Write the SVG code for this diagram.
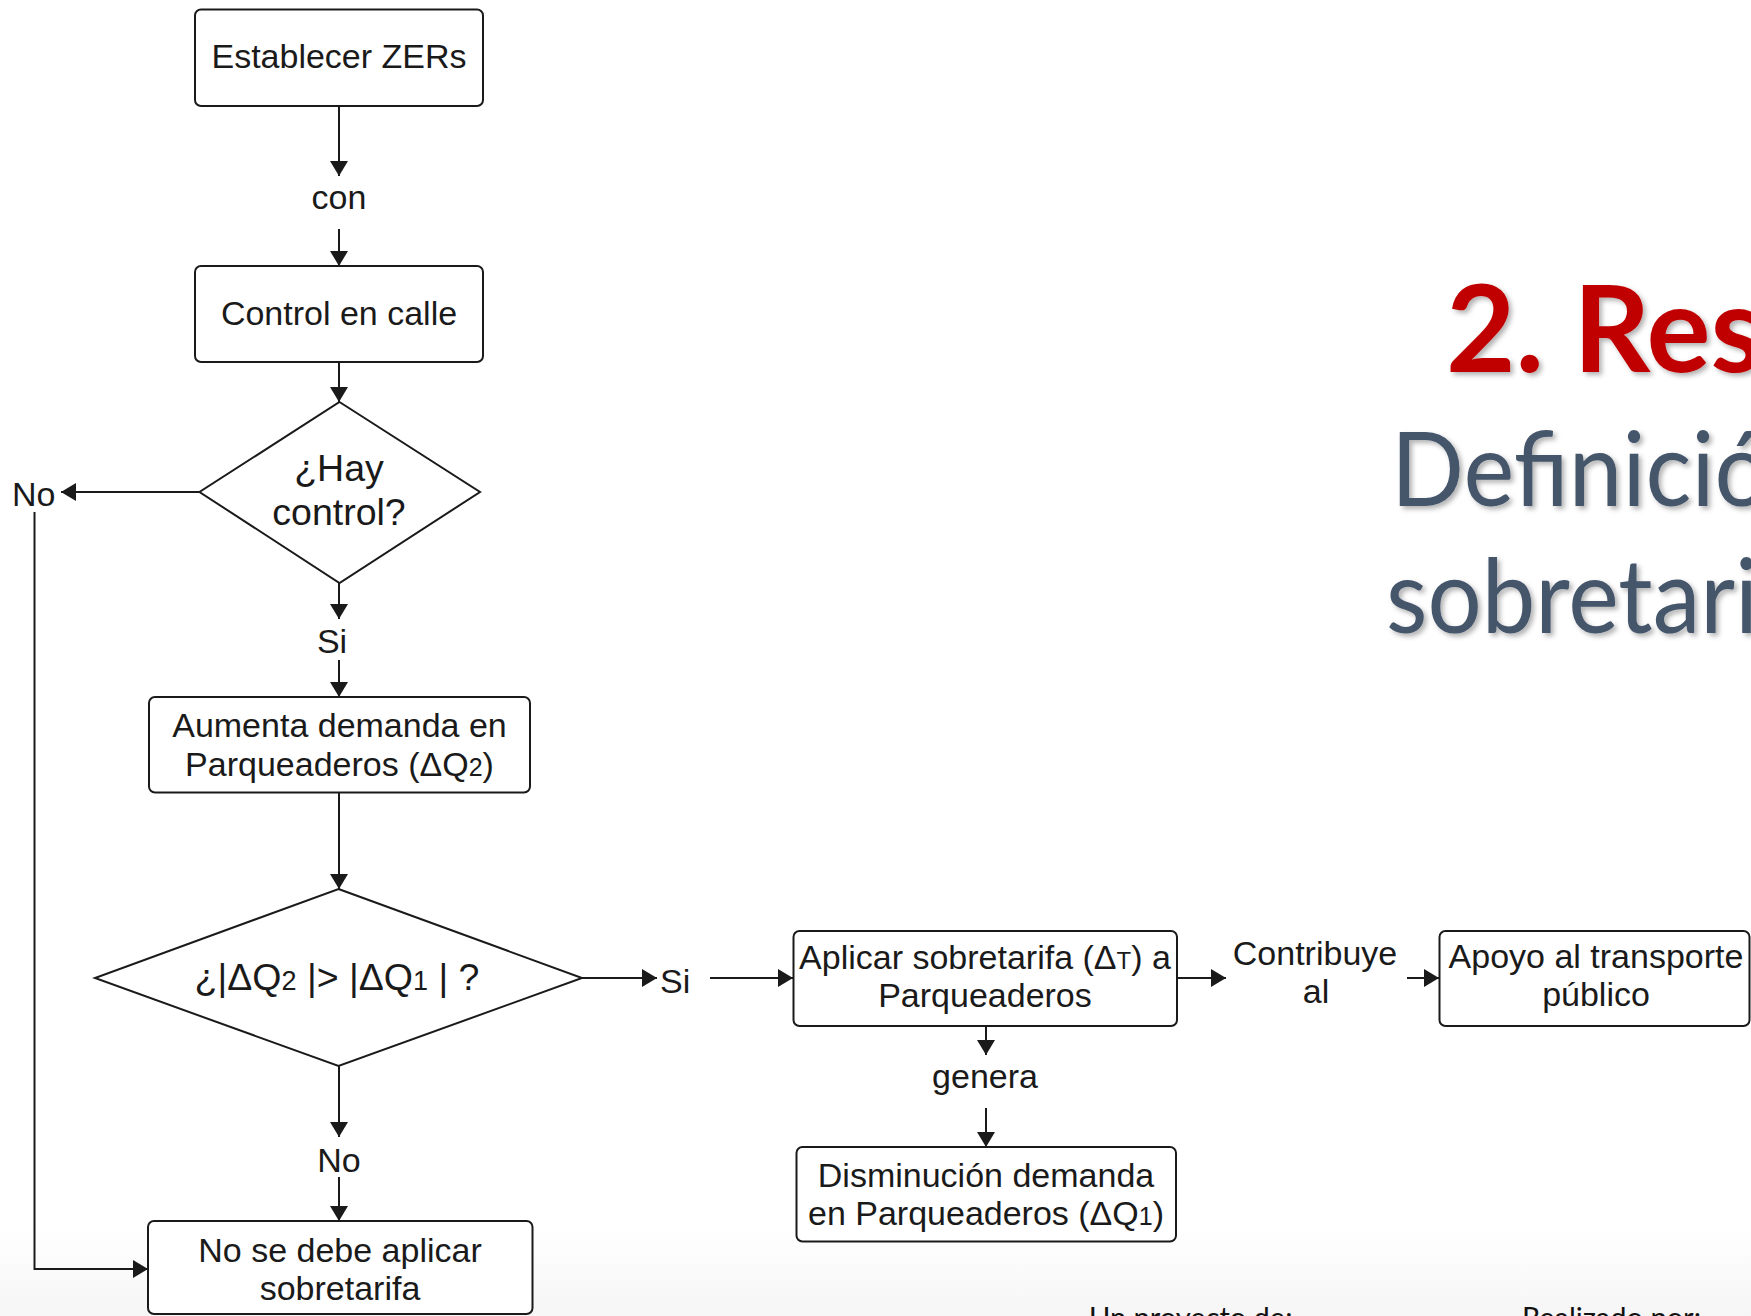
<svg xmlns="http://www.w3.org/2000/svg" width="1751" height="1316" viewBox="0 0 1751 1316">
<defs>
<style>
.box{fill:#fff;stroke:#1a1a1a;stroke-width:2}
.dia{fill:#fff;stroke:#1a1a1a;stroke-width:2}
.con{fill:none;stroke:#1a1a1a;stroke-width:2}
.t{font-family:"Liberation Sans",Arial,sans-serif;font-size:34px;fill:#1a1a1a;text-anchor:middle}
.d{font-size:37.5px}
.ts{font-size:25px}
.tds{font-size:27px}
.sm{font-size:24px}
.title{font-family:Lato,"Open Sans",sans-serif;font-weight:bold;font-size:120px;fill:#C00000}
.sub{font-family:Lato,"Open Sans",sans-serif;font-size:102px;fill:#44546A}
.foot{font-family:Lato,"Open Sans",sans-serif;font-size:29px;fill:#111}
</style>
<marker id="ah" markerUnits="userSpaceOnUse" markerWidth="16" markerHeight="18" refX="15" refY="9" orient="auto">
<path d="M0,0 L15,9 L0,18 Z" fill="#1a1a1a"/>
</marker>
<linearGradient id="bg" x1="0" y1="0" x2="0" y2="1">
<stop offset="0" stop-color="#ffffff"/>
<stop offset="1" stop-color="#f6f6f6"/>
</linearGradient>
<filter id="sh" x="-5%" y="-5%" width="110%" height="120%">
<feDropShadow dx="3" dy="3" stdDeviation="2.5" flood-color="#000" flood-opacity="0.3"/>
</filter>
</defs>
<rect x="0" y="0" width="1751" height="1316" fill="#fff"/>
<rect x="0" y="1222" width="1751" height="94" fill="url(#bg)"/>

<g id="heading" filter="url(#sh)">
<text class="title" x="1446" y="372">2. Res</text>
<text class="sub" x="1391" y="506" textLength="378" lengthAdjust="spacingAndGlyphs">Definició</text>
<text class="sub" x="1386" y="633" textLength="372" lengthAdjust="spacingAndGlyphs">sobretari</text>
</g>

<g id="footer">
<text class="foot" x="1089" y="1328">Un proyecto de:</text>
<text class="foot" x="1522" y="1328">Realizado por:</text>
</g>

<g id="connectors">
<line class="con" x1="339" y1="106" x2="339" y2="176" marker-end="url(#ah)"/>
<line class="con" x1="339" y1="229" x2="339" y2="266" marker-end="url(#ah)"/>
<line class="con" x1="339" y1="362" x2="339" y2="402" marker-end="url(#ah)"/>
<line class="con" x1="200" y1="492" x2="61" y2="492" marker-end="url(#ah)"/>
<polyline class="con" points="34.5,512 34.5,1269 148,1269" marker-end="url(#ah)"/>
<line class="con" x1="339" y1="583" x2="339" y2="619" marker-end="url(#ah)"/>
<line class="con" x1="339" y1="660" x2="339" y2="697" marker-end="url(#ah)"/>
<line class="con" x1="339" y1="792" x2="339" y2="889" marker-end="url(#ah)"/>
<line class="con" x1="339" y1="1066" x2="339" y2="1137" marker-end="url(#ah)"/>
<line class="con" x1="339" y1="1177" x2="339" y2="1221" marker-end="url(#ah)"/>
<line class="con" x1="582" y1="978" x2="657" y2="978" marker-end="url(#ah)"/>
<line class="con" x1="710" y1="978" x2="793" y2="978" marker-end="url(#ah)"/>
<line class="con" x1="1177" y1="978" x2="1226" y2="978" marker-end="url(#ah)"/>
<line class="con" x1="1407" y1="978" x2="1439" y2="978" marker-end="url(#ah)"/>
<line class="con" x1="986" y1="1026" x2="986" y2="1055" marker-end="url(#ah)"/>
<line class="con" x1="986" y1="1108" x2="986" y2="1147" marker-end="url(#ah)"/>
<text class="t" x="339" y="209">con</text>
<text class="t" x="12" y="506" style="text-anchor:start">No</text>
<text class="t" x="332" y="653">Si</text>
<text class="t" x="339" y="1172">No</text>
<text class="t" x="660" y="993" style="text-anchor:start">Si</text>
<text class="t" x="1315" y="965">Contribuye</text>
<text class="t" x="1316" y="1003">al</text>
<text class="t" x="985" y="1088">genera</text>
</g>

<g id="n1">
<rect class="box" x="195" y="9.5" width="288" height="96.5" rx="6"/>
<text class="t" x="339" y="68">Establecer ZERs</text>
</g>
<g id="n2">
<rect class="box" x="195" y="266" width="288" height="96" rx="6"/>
<text class="t" x="339" y="325">Control en calle</text>
</g>
<g id="n3">
<polygon class="dia" points="339.5,402 480,492 339.5,583 199.5,492"/>
<text class="t d" x="339" y="481">¿Hay</text>
<text class="t d" x="339" y="525">control?</text>
</g>
<g id="n4">
<rect class="box" x="149" y="697" width="381" height="95.5" rx="6"/>
<text class="t" x="339.5" y="737">Aumenta demanda en</text>
<text class="t" x="339.5" y="776">Parqueaderos (ΔQ<tspan class="ts">2</tspan>)</text>
</g>
<g id="n5">
<polygon class="dia" points="338.5,889 582,978 338.5,1066 95,978"/>
<text class="t d" x="337" y="990">¿|ΔQ<tspan class="tds">2</tspan> |&gt; |ΔQ<tspan class="tds">1</tspan> | ?</text>
</g>
<g id="n6">
<rect class="box" x="793.5" y="931" width="383.5" height="95" rx="6"/>
<text class="t" x="985" y="969">Aplicar sobretarifa (Δ<tspan class="sm">T</tspan>) a</text>
<text class="t" x="985" y="1007">Parqueaderos</text>
</g>
<g id="n7">
<rect class="box" x="1439.5" y="931" width="310" height="95" rx="6"/>
<text class="t" x="1596" y="968">Apoyo al transporte</text>
<text class="t" x="1596" y="1006">público</text>
</g>
<g id="n8">
<rect class="box" x="796.5" y="1147" width="379.5" height="94.5" rx="6"/>
<text class="t" x="986" y="1187">Disminución demanda</text>
<text class="t" x="986" y="1225">en Parqueaderos (ΔQ<tspan class="ts">1</tspan>)</text>
</g>
<g id="n9">
<rect class="box" x="148" y="1221" width="384.5" height="93" rx="6"/>
<text class="t" x="340" y="1262">No se debe aplicar</text>
<text class="t" x="340" y="1300">sobretarifa</text>
</g>
</svg>
